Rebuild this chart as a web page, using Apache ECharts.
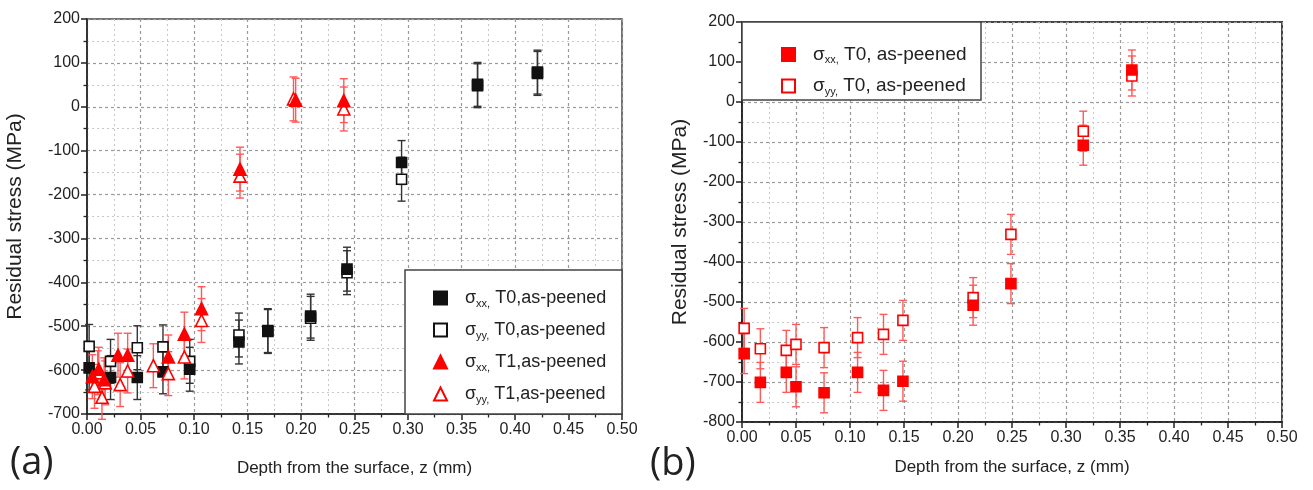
<!DOCTYPE html>
<html>
<head>
<meta charset="utf-8">
<script src="https://cdn.jsdelivr.net/npm/echarts@6/dist/echarts.min.js"></script>
<style>
html,body{margin:0;padding:0;background:#fff;}
#c{width:1313px;height:490px;}
</style>
</head>
<body>
<div id="c"></div>
<script>
// ---------- DATA ----------
// Panel (a)
const a_xxT0_x = [0.002, 0.022, 0.047, 0.071, 0.096, 0.142, 0.169, 0.209, 0.243, 0.294, 0.365, 0.421];
const a_xxT0_y = [-595, -617, -617, -604, -598, -536, -510, -477, -370, -127, 51, 79];
const a_yyT0_x = [0.002, 0.022, 0.047, 0.071, 0.096, 0.142, 0.169, 0.209, 0.243, 0.294, 0.365, 0.421];
const a_yyT0_y = [-546, -580, -549, -547, -580, -520, -512, -482, -378, -165, 48, 76];
const a_xxT1_x = [0.005, 0.011, 0.016, 0.029, 0.038, 0.076, 0.091, 0.107, 0.143, 0.195, 0.240];
const a_xxT1_y = [-615, -598, -622, -566, -566, -570, -518, -460, -142, 15, 14];
const a_yyT1_x = [0.007, 0.010, 0.014, 0.017, 0.031, 0.038, 0.062, 0.076, 0.091, 0.107, 0.143, 0.193, 0.240];
const a_yyT1_y = [-637, -606, -662, -629, -633, -602, -590, -608, -570, -487, -158, 18, -5];
const a_err = 50;
// Panel (b)
const b_x    = [0.002, 0.017, 0.041, 0.050, 0.076, 0.107, 0.131, 0.149, 0.214, 0.249, 0.316, 0.361];
const b_xx_y = [-629, -701, -676, -712, -727, -676, -721, -698, -508, -454, -108, 80];
const b_yy_y = [-566, -617, -621, -606, -614, -589, -581, -546, -489, -331, -73, 65];
const b_err = 50;
// Tick labels / texts
const xTicks = [0, 0.05, 0.10, 0.15, 0.20, 0.25, 0.30, 0.35, 0.40, 0.45, 0.50];
const xTitle = 'Depth from the surface, z (mm)';
const yTitle = 'Residual stress (MPa)';
const a_legSub  = ['xx,', 'yy,', 'xx,', 'yy,'];
const a_legRest = [' T0,as-peened', ' T0,as-peened', ' T1,as-peened', ' T1,as-peened'];
const b_legSub  = ['xx,', 'yy,'];
const b_legRest = [' T0, as-peened', ' T0, as-peened'];

// ---------- HELPERS ----------
const FONT = '"Liberation Sans", Arial, sans-serif';
function pts(xs, ys, e) { return xs.map((x, i) => [x, ys[i], e]); }
function errSeries(name, data, color, xi, yi, cap) {
  return {
    type: 'custom', name: name, xAxisIndex: xi, yAxisIndex: yi, z: 1, silent: true,
    data: data,
    renderItem: function (params, api) {
      const x = api.value(0), y = api.value(1), e = api.value(2);
      const t = api.coord([x, y + e]), b = api.coord([x, y - e]);
      const st = { stroke: color, lineWidth: 1.4 };
      return { type: 'group', children: [
        { type: 'line', shape: { x1: t[0], y1: t[1], x2: b[0], y2: b[1] }, style: st },
        { type: 'line', shape: { x1: t[0] - cap, y1: t[1], x2: t[0] + cap, y2: t[1] }, style: st },
        { type: 'line', shape: { x1: b[0] - cap, y1: b[1], x2: b[0] + cap, y2: b[1] }, style: st }
      ]};
    }
  };
}
function scat(name, data, symbol, size, fill, stroke, xi, yi, z) {
  return {
    type: 'scatter', name: name, xAxisIndex: xi, yAxisIndex: yi, z: z,
    symbol: symbol, symbolSize: size, data: data.map(d => [d[0], d[1]]),
    itemStyle: { color: fill, borderColor: stroke, borderWidth: 1.6, opacity: 1 },
    emphasis: { disabled: true }
  };
}
function xAx(gi) {
  return {
    gridIndex: gi, type: 'value', min: 0, max: 0.5, interval: 0.05,
    name: xTitle, nameLocation: 'middle', nameGap: gi === 0 ? 46 : 37,
    nameTextStyle: { fontFamily: FONT, fontSize: 17, color: '#222' },
    axisLine: { show: true, onZero: false, lineStyle: { color: '#222', width: 1.6 } },
    axisTick: { show: true, inside: false, length: 6, lineStyle: { color: '#222', width: 1.5 } },
    minorTick: { show: true, splitNumber: 2, length: 3.5, lineStyle: { color: '#222', width: 1.3 } },
    axisLabel: { fontFamily: FONT, fontSize: 16, color: '#222', margin: 8,
                 formatter: v => v.toFixed(2) },
    splitLine: { show: true, lineStyle: { color: '#999', type: [3, 3], width: 1.2 } },
    minorSplitLine: { show: true, lineStyle: { color: '#c8c8c8', type: [2, 3], width: 1 } }
  };
}
function yAx(gi, min) {
  return {
    gridIndex: gi, type: 'value', min: min, max: 200, interval: 100,
    name: yTitle, nameLocation: 'middle', nameGap: gi === 0 ? 61 : 51,
    nameTextStyle: { fontFamily: FONT, fontSize: 21, color: '#222' },
    axisLine: { show: true, onZero: false, lineStyle: { color: '#222', width: 1.6 } },
    axisTick: { show: true, inside: false, length: 6, lineStyle: { color: '#222', width: 1.5 } },
    minorTick: { show: true, splitNumber: 2, length: 3.5, lineStyle: { color: '#222', width: 1.3 } },
    axisLabel: { fontFamily: FONT, fontSize: 16, color: '#222', margin: 7 },
    splitLine: { show: true, lineStyle: { color: '#999', type: [3, 3], width: 1.2 } },
    minorSplitLine: { show: true, lineStyle: { color: '#c8c8c8', type: [2, 3], width: 1 } }
  };
}
function legendRich(size, subSize, lh) {
  return {
    g: { width: 13 },
    s: { fontFamily: FONT, fontSize: size, color: '#222', lineHeight: lh, verticalAlign: 'middle' },
    sub: { fontFamily: FONT, fontSize: subSize, color: '#222', lineHeight: subSize, verticalAlign: 'bottom' }
  };
}

// ---------- SERIES ----------
const A1 = pts(a_xxT0_x, a_xxT0_y, a_err), A2 = pts(a_yyT0_x, a_yyT0_y, a_err);
const A3 = pts(a_xxT1_x, a_xxT1_y, a_err), A4 = pts(a_yyT1_x, a_yyT1_y, a_err);
const B1 = pts(b_x, b_xx_y, b_err), B2 = pts(b_x, b_yy_y, b_err);

const aNames = ['a_xxT0', 'a_yyT0', 'a_xxT1', 'a_yyT1'];
const bNames = ['b_xxT0', 'b_yyT0'];
const RED = '#ff0000', REDERR = '#ff5a5a', BLK = '#111', BLKERR = '#333';

const series = [
  errSeries('e1', A1, BLKERR, 0, 0, 4), errSeries('e2', A2, BLKERR, 0, 0, 4),
  errSeries('e3', A3, REDERR, 0, 0, 4), errSeries('e4', A4, REDERR, 0, 0, 4),
  scat(aNames[1], A2, 'rect', 10, '#fff', BLK, 0, 0, 3),
  scat(aNames[0], A1, 'rect', 10, BLK, BLK, 0, 0, 4),
  scat(aNames[3], A4, 'triangle', 12, '#fff', RED, 0, 0, 5),
  scat(aNames[2], A3, 'triangle', 12, RED, RED, 0, 0, 6),
  errSeries('e5', B1, REDERR, 1, 1, 4), errSeries('e6', B2, REDERR, 1, 1, 4),
  scat(bNames[1], B2, 'rect', 10, '#fff', RED, 1, 1, 3),
  scat(bNames[0], B1, 'rect', 10, RED, RED, 1, 1, 4)
];

const chart = echarts.init(document.getElementById('c'), null, { renderer: 'canvas' });
chart.setOption({
  animation: false,
  backgroundColor: '#fff',
  grid: [
    { left: 87, top: 19, width: 535, height: 395, show: true, borderColor: '#444', borderWidth: 1.5, backgroundColor: 'transparent' },
    { left: 742, top: 22, width: 540, height: 400, show: true, borderColor: '#444', borderWidth: 2, backgroundColor: 'transparent' }
  ],
  xAxis: [xAx(0), xAx(1)],
  yAxis: [yAx(0, -700), yAx(1, -800)],
  legend: [
    {
      data: aNames, orient: 'vertical', left: 428, top: 284, itemGap: 12,
      itemWidth: 13, itemHeight: 13, z: 10, selectedMode: false,
      formatter: n => { const i = aNames.indexOf(n); return '{g|}{s|σ}{sub|' + a_legSub[i] + '}{s|' + a_legRest[i] + '}'; },
      textStyle: { rich: legendRich(18, 11, 22) }
    },
    {
      data: bNames, orient: 'vertical', left: 776, top: 40, itemGap: 11,
      itemWidth: 13, itemHeight: 13, z: 10, selectedMode: false,
      formatter: n => { const i = bNames.indexOf(n); return '{g|}{s|σ}{sub|' + b_legSub[i] + '}{s|' + b_legRest[i] + '}'; },
      textStyle: { rich: legendRich(19, 11, 22) }
    }
  ],
  graphic: [
    { type: 'rect', z: 9, shape: { x: 405, y: 270, width: 217, height: 144 },
      style: { fill: '#fff', stroke: '#444', lineWidth: 1.5 } },
    { type: 'rect', z: 9, shape: { x: 742, y: 22, width: 239, height: 78 },
      style: { fill: '#fff', stroke: '#444', lineWidth: 1.5 } },
    { type: 'text', left: 10, top: 444, style: { text: '(a)', font: '38px "Open Sans", sans-serif', fill: '#222' } },
    { type: 'text', left: 650, top: 445, style: { text: '(b)', font: '38px "Open Sans", sans-serif', fill: '#222' } }
  ],
  series: series
});
</script>
</body>
</html>
